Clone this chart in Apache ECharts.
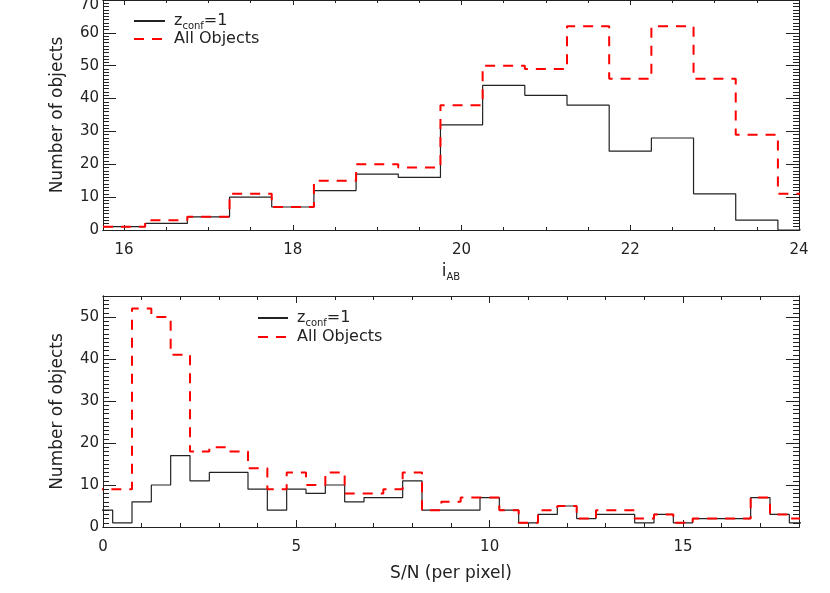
<!DOCTYPE html>
<html>
<head>
<meta charset="utf-8">
<script src="https://cdn.jsdelivr.net/npm/echarts@6/dist/echarts.min.js"></script>
<style>
html, body { margin: 0; padding: 0; background: #fff; }
#chart { width: 830px; height: 593px; }
</style>
</head>
<body>
<div id="chart"></div>
<script>
// top panel: i_AB histogram, bins of 0.5 mag
var magBins = [16, 16.5, 17, 17.5, 18, 18.5, 19, 19.5, 20, 20.5, 21, 21.5, 22, 22.5, 23, 23.5, 24];
var magConf = [1, 2, 4, 10, 7, 12, 17, 16, 32, 44, 41, 38, 24, 28, 11, 3, 0];
var magAll  = [1, 3, 4, 11, 7, 15, 20, 19, 38, 50, 49, 62, 46, 62, 46, 29, 11];

// bottom panel: S/N histogram, bins of 0.5
var snBins = [0, 0.5, 1, 1.5, 2, 2.5, 3, 3.5, 4, 4.5, 5, 5.5, 6, 6.5, 7, 7.5, 8, 8.5, 9,
              9.5, 10, 10.5, 11, 11.5, 12, 12.5, 13, 13.5, 14, 14.5, 15, 15.5, 16, 16.5, 17, 17.5, 18];
var snConf = [4, 1, 6, 10, 17, 11, 13, 13, 9, 4, 9, 8, 10, 6, 7, 7, 11, 4, 4,
              4, 7, 4, 1, 3, 5, 2, 3, 3, 1, 3, 1, 2, 2, 2, 7, 3, 1];
var snAll  = [9, 9, 52, 50, 41, 18, 19, 18, 14, 9, 13, 10, 13, 8, 8, 9, 13, 4, 6,
              7, 7, 4, 1, 4, 5, 2, 4, 4, 2, 3, 1, 2, 2, 2, 7, 3, 2];

var magTicks = [16, 18, 20, 22, 24];
var snTicks = [0, 5, 10, 15];
var countTicksTop = [0, 10, 20, 30, 40, 50, 60, 70];
var countTicksBot = [0, 10, 20, 30, 40, 50];

var ink = '#222';
var font = 'DejaVu Sans';

function range(a, b, step) {
  var out = [];
  for (var v = a; v <= b + 1e-9; v += step) out.push(Math.round(v * 100) / 100);
  return out;
}

// bin centres -> edge points for a step:'end' line
function histPoints(centres, counts, w) {
  var pts = centres.map(function (c, i) { return [c - w / 2, counts[i]]; });
  var n = centres.length - 1;
  pts.push([centres[n] + w / 2, counts[n]]);
  return pts;
}

function axis(grid, pos, min, max, ticks, len, labelMargin, extra) {
  return Object.assign({
    type: 'value', gridIndex: grid, position: pos, min: min, max: max,
    axisLine: { show: true, onZero: false, lineStyle: { color: ink, width: 1 } },
    axisTick: { show: true, inside: true, length: len, customValues: ticks, lineStyle: { color: ink, width: 1 } },
    axisLabel: labelMargin == null ? { show: false } : {
      show: true, customValues: ticks, margin: labelMargin, color: ink,
      fontFamily: font, fontSize: 15,
      // the top label sits a little below its tick, as in the original
      formatter: function (v) { return v === 70 ? '{lo|70}' : String(v); },
      rich: { lo: { fontFamily: font, fontSize: 15, color: ink, padding: [11, 0, 0, 0] } }
    },
    splitLine: { show: false }
  }, extra || {});
}

var nameStyle = {
  color: ink, fontFamily: font, fontSize: 17,
  rich: { s: { fontFamily: font, fontSize: 10, lineHeight: 21, verticalAlign: 'bottom', color: ink } }
};

var xAxes = [
  axis(0, 'bottom', 15.75, 24, magTicks, 5, 13, { name: 'i{s|AB}', nameLocation: 'middle', nameGap: 31, nameTextStyle: nameStyle }),
  axis(0, 'bottom', 15.75, 24, range(16, 24, 0.5), 3),
  axis(0, 'top', 15.75, 24, magTicks, 5),
  axis(0, 'top', 15.75, 24, range(16, 24, 0.5), 3),
  axis(1, 'bottom', 0, 18, snTicks, 7, 13, { name: 'S/N (per pixel)', nameLocation: 'middle', nameGap: 38, nameTextStyle: nameStyle }),
  axis(1, 'bottom', 0, 18, range(0, 18, 1), 4),
  axis(1, 'top', 0, 18, snTicks, 7),
  axis(1, 'top', 0, 18, range(0, 18, 1), 4)
];

var yName = { name: 'Number of objects', nameLocation: 'middle', nameGap: 37, nameTextStyle: nameStyle };
var yAxes = [
  axis(0, 'left', 0, 70, countTicksTop, 13, 4, yName),
  axis(0, 'left', 0, 70, range(0, 70, 1), 6),
  axis(0, 'right', 0, 70, countTicksTop, 13),
  axis(0, 'right', 0, 70, range(0, 70, 1), 6),
  axis(1, 'left', 0, 55, countTicksBot, 13, 4, yName),
  axis(1, 'left', 0, 55, range(0, 55, 1), 6),
  axis(1, 'right', 0, 55, countTicksBot, 13),
  axis(1, 'right', 0, 55, range(0, 55, 1), 6)
];

var confStyle = { color: ink, width: 1.2 };
var allStyle = { color: '#ff0000', width: 2, type: [10, 8] };

function hist(name, x, y, pts, style) {
  return {
    name: name, type: 'line', step: 'end', xAxisIndex: x, yAxisIndex: y,
    data: pts, symbol: 'none', lineStyle: style, itemStyle: { color: style.color },
    clip: true, silent: true
  };
}

var legendText = {
  color: ink, fontFamily: font, fontSize: 16,
  rich: {
    f: { fontFamily: font, fontSize: 16, lineHeight: 20, color: ink, padding: [0, 0, 0, 4] },
    t: { fontFamily: font, fontSize: 16, lineHeight: 20, color: ink },
    s: { fontFamily: font, fontSize: 10, lineHeight: 20, verticalAlign: 'bottom', color: ink }
  }
};
function legendFmt(name) {
  return name === 'zconf' ? '{f|z}{s|conf}{t|=1}' : '{f|' + name + '}';
}

var option = {
  animation: false,
  backgroundColor: '#fff',
  grid: [
    { left: 103, right: 31, top: 0, height: 230, outerBoundsMode: 'none' },
    { left: 103, right: 31, top: 296, height: 231, outerBoundsMode: 'none' }
  ],
  legend: [
    { left: 133, top: 13, orient: 'vertical', padding: 0, itemWidth: 31, itemHeight: 14, itemGap: 0,
      itemStyle: { opacity: 0 },
      data: ['zconf', 'All Objects'], textStyle: legendText, formatter: legendFmt, selectedMode: false },
    { left: 257, top: 310, orient: 'vertical', padding: 0, itemWidth: 30, itemHeight: 14, itemGap: 1,
      itemStyle: { opacity: 0 },
      data: ['zconf', 'All Objects'], textStyle: legendText, formatter: legendFmt, selectedMode: false }
  ],
  xAxis: xAxes,
  yAxis: yAxes,
  series: [
    hist('zconf', 0, 0, histPoints(magBins, magConf, 0.5), confStyle),
    hist('All Objects', 0, 0, histPoints(magBins, magAll, 0.5), allStyle),
    hist('zconf', 4, 4, histPoints(snBins, snConf, 0.5), confStyle),
    hist('All Objects', 4, 4, histPoints(snBins, snAll, 0.5), allStyle)
  ]
};

var chart = echarts.init(document.getElementById('chart'), null, { renderer: 'canvas' });
chart.setOption(option);
window.addEventListener('resize', function () { chart.resize(); });
</script>
</body>
</html>
